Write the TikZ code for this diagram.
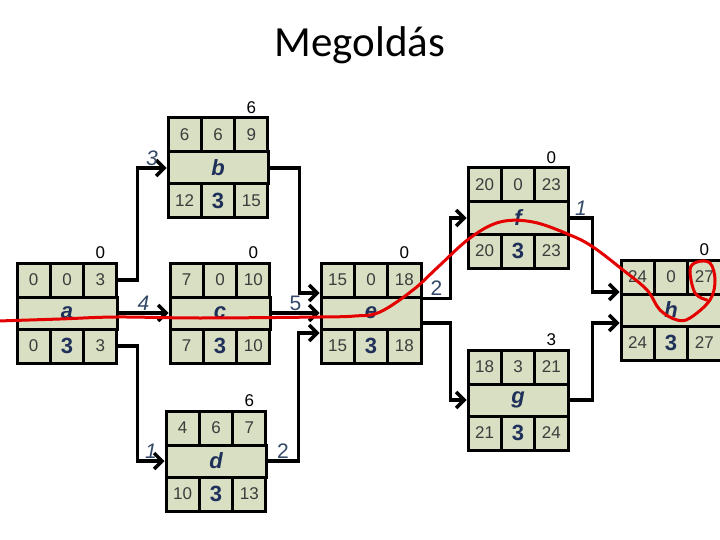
\documentclass[tikz,border=0pt]{standalone}
\usepackage{fontspec}
\setmainfont{Liberation Sans}
\newfontfamily\titlefont{Carlito}
\usetikzlibrary{arrows.meta,positioning}

\definecolor{cellfill}{RGB}{216,223,194}
\definecolor{labelblue}{RGB}{31,48,90}
\definecolor{weightblue}{RGB}{52,72,104}
\definecolor{cellgrey}{RGB}{60,60,60}

\tikzset{
  cell/.style={draw, rectangle, line width=3pt, fill=cellfill, minimum width=33.33pt,
    minimum height=34pt, inner sep=0pt, text=cellgrey, font=\fontsize{17}{17}\selectfont},
  midcell/.style={cell, minimum width=100pt, minimum height=32pt, text=labelblue,
    font=\fontsize{22}{22}\selectfont\bfseries\itshape},
  dur/.style={text=labelblue, font=\fontsize{22}{22}\selectfont\bfseries},
  slack/.style={font=\fontsize{17}{17}\selectfont, inner sep=1pt},
  weight/.style={text=weightblue, font=\fontsize{21}{21}\selectfont, inner sep=1pt},
  link/.style={line width=3.5pt, -{Straight Barb[length=8pt,width=16pt]}},
}

% #1 name and label, #2 top left corner, #3-#5 top row, #6-#8 bottom row, #9 value above
\newcommand{\tasknode}[9]{%
  \begin{scope}[shift={(#2)}]
    \node[cell] (#1-1) at (16.67,17) {#3};
    \node[cell] (#1-2) at (50,17) {#4};
    \node[cell] (#1-3) at (83.33,17) {#5};
    \node[midcell] (#1) at (50,50) {#1};
    \node[cell] (#1-4) at (16.67,83) {#6};
    \node[cell, dur] (#1-5) at (50,83) {#7};
    \node[cell] (#1-6) at (83.33,83) {#8};
    \node[slack, above=2pt of #1-3] (#1-s) {#9};
  \end{scope}}

\begin{document}
\begin{tikzpicture}[x=1pt, y=-1pt]
  \useasboundingbox (0,0) rectangle (720,540);

  \node[font=\titlefont\fontsize{43}{43}\selectfont] (title) at (360,45) {Megoldás};

  \tasknode{a}{17,263}{0}{0}{3}{0}{3}{3}{0}
  \tasknode{b}{168,118}{6}{6}{9}{12}{3}{15}{6}
  \tasknode{c}{170,263}{7}{0}{10}{7}{3}{10}{0}
  \tasknode{d}{166,411}{4}{6}{7}{10}{3}{13}{6}
  \tasknode{e}{321,263}{15}{0}{18}{15}{3}{18}{0}
  \tasknode{f}{468,168}{20}{0}{23}{20}{3}{23}{0}
  \tasknode{g}{468,350}{18}{3}{21}{21}{3}{24}{3}
  \tasknode{h}{621,260}{24}{0}{27}{24}{3}{27}{0}

  % connectors
  \draw[link] (a-3.east) -- ++(19,0) |- node[weight, pos=0.75, above] {\textit{3}} (b.west);
  \draw[link] (a) -- node[weight, above] {\textit{4}} (c);
  \draw[link] (a-6.east) -- ++(19,0) |- node[weight, pos=0.75, above] {\textit{1}} (d.west);
  \draw[link] (b.east) -- ++(30,0) |- ([yshift=20pt]e.west);
  \draw[link] (c) -- node[weight, above] {5} (e);
  \draw[link] (d.east) -- node[weight, above] {2} ++(31,0) |- ([yshift=-20pt]e.west);
  \draw[link] (e-3.south east) -- node[weight, above] {2} ++(28,0) |- (f.west);
  \draw[link] ([yshift=-10pt]e.east) -- ++(28,0) |- (g.west);
  \draw[link] (f.east) -- node[weight, above] {\textit{1}} ++(23,0) |- ([yshift=18pt]h.west);
  \draw[link] (g.east) -- ++(23,0) |- ([yshift=-13pt]h.west);

  % critical path, drawn by hand
  \draw[red!90!black, line width=3pt, line cap=round, line join=round]
    plot[smooth, tension=0.6] coordinates {(-2,321) (60,319) (117,317) (200,318) (320,317)
      (355,316) (380,312) (413,290) (438,267) (470,238) (500,222) (533,222) (570,235)
      (593,247) (623,270) (647,290) (660,310) (677,320) (690,318) (710,300) (715,280)
      (710,263) (697,262) (690,270) (695,293) (707,300)};
\end{tikzpicture}
\end{document}
